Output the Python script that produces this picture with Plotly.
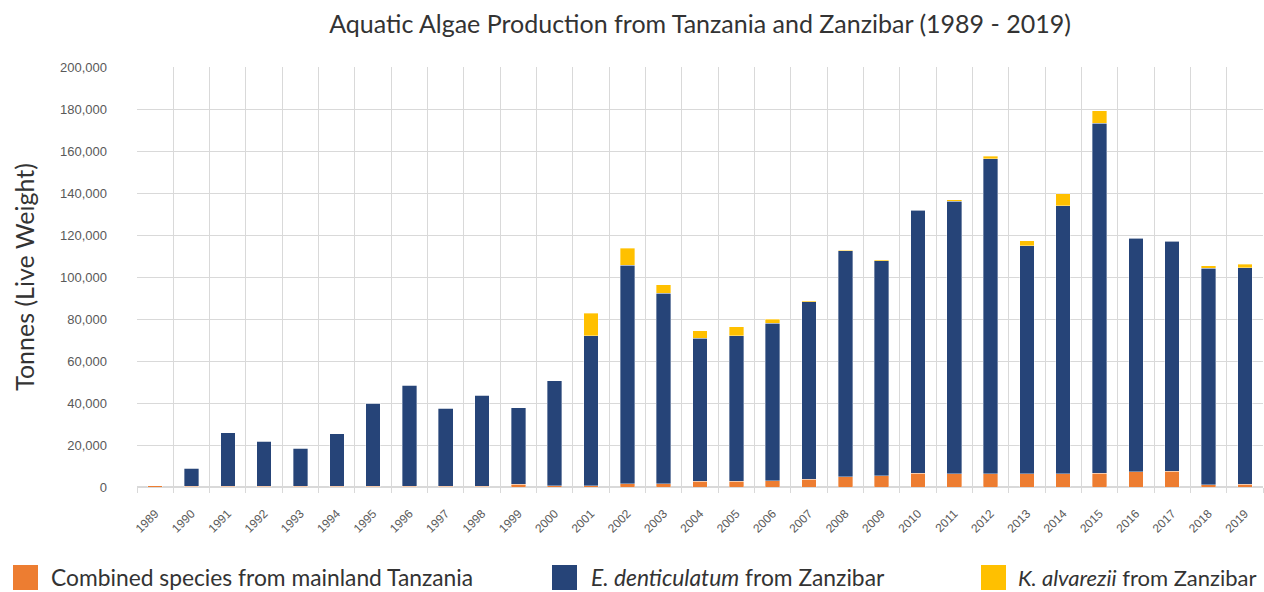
import plotly.graph_objects as go

years = ["1989", "1990", "1991", "1992", "1993", "1994", "1995", "1996", "1997", "1998",
         "1999", "2000", "2001", "2002", "2003", "2004", "2005", "2006", "2007", "2008",
         "2009", "2010", "2011", "2012", "2013", "2014", "2015", "2016", "2017", "2018", "2019"]

mainland = [600, 300, 300, 300, 300, 300, 300, 300, 300, 300,
            1400, 500, 500, 1600, 1600, 2700, 2700, 2900, 3800, 4800,
            5300, 6500, 6400, 6200, 6400, 6400, 6500, 7200, 7600, 1000, 1400]

denticulatum = [0, 8600, 25500, 21600, 18100, 25000, 39600, 48200, 37100, 43400,
                36400, 50100, 71500, 104100, 90600, 68100, 69300, 75000, 84300, 107600,
                102500, 125200, 129700, 150100, 108600, 127600, 166800, 111300, 109400, 103200, 103100]

alvarezii = [0, 0, 0, 0, 0, 0, 0, 0, 0, 0,
             0, 0, 10700, 8100, 4200, 3600, 4300, 1900, 600, 300,
             300, 400, 800, 1100, 2200, 5600, 5900, 300, 300, 1200, 1600]

series_names = ["Combined species from mainland Tanzania",
                "<i>E. denticulatum</i> from Zanzibar",
                "<i>K. alvarezii</i> from Zanzibar"]
colors = ["#ED7D31", "#264478", "#FFC000"]

W, H = 1264, 592
L, R, T, B = 137, 1, 67, 105
PW, PH = W - L - R, H - T - B

def px_x(x):
    return (x - L) / PW

def px_y(y):
    return (H - B - y) / PH

fig = go.Figure()
for vals, name, col in zip([mainland, denticulatum, alvarezii], series_names, colors):
    fig.add_trace(go.Bar(
        x=years, y=vals, name=name,
        marker=dict(color=col, line=dict(color="rgba(255,255,255,0.6)", width=0.6)),
        showlegend=False,
    ))

# manual legend (large swatches like the original)
legend_pos = [(13, 49, 22.8), (552, 589, 22.8), (981, 1016, 22)]
shapes = []
annotations = []
for (sx, tx, fs), name, col in zip(legend_pos, series_names, colors):
    shapes.append(dict(type="rect", xref="paper", yref="paper",
                       x0=px_x(sx), x1=px_x(sx + 25), y0=px_y(590), y1=px_y(565),
                       fillcolor=col, line=dict(width=0)))
    annotations.append(dict(xref="paper", yref="paper", x=px_x(tx), y=px_y(577),
                            xanchor="left", yanchor="middle", showarrow=False,
                            text=name, font=dict(family="Lato", size=fs, color="#333333")))

fig.update_layout(
    width=W, height=H,
    margin=dict(l=L, r=R, t=T, b=B, autoexpand=False),
    barmode="stack", bargap=0.6,
    plot_bgcolor="white", paper_bgcolor="white",
    title=dict(text="Aquatic Algae Production from Tanzania and Zanzibar (1989 - 2019)",
               x=0.5, xref="paper", xanchor="center",
               y=1 - 24 / H, yref="container", yanchor="middle",
               font=dict(family="Lato", size=25, color="#333333")),
    shapes=shapes, annotations=annotations,
    font=dict(family="Liberation Sans, Arial", color="#595959"),
)
fig.update_xaxes(
    type="category", tickson="boundaries", ticks="outside", ticklen=5,
    tickcolor="#D9D9D9", showgrid=True, gridcolor="#D9D9D9", gridwidth=1,
    showline=True, linecolor="#D9D9D9", linewidth=1, automargin=False,
    tickangle=-45, ticklabelstandoff=14, tickfont=dict(size=12, color="#595959"),
)
fig.update_yaxes(
    range=[0, 200000], dtick=20000, tickformat=",", showgrid=True,
    gridcolor="#D9D9D9", gridwidth=1, zeroline=True, zerolinecolor="#D9D9D9",
    ticks="", ticklabelstandoff=29, automargin=False,
    tickfont=dict(size=13, color="#595959"),
    title=dict(text="Tonnes (Live Weight)", standoff=18,
               font=dict(family="Lato", size=25, color="#333333")),
)

fig.write_html("out.html", config={"displayModeBar": False},
               post_script="document.body.style.margin='0px';document.body.style.overflow='hidden';")
